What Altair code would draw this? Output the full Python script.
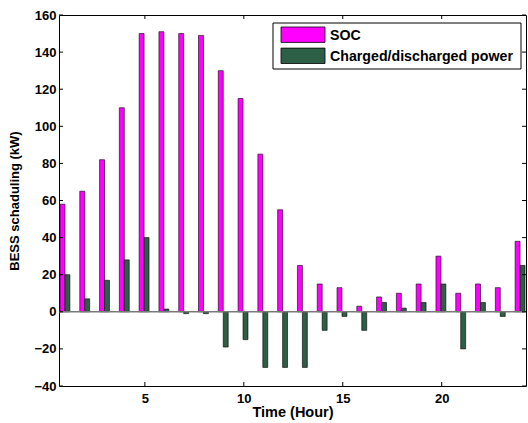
import altair as alt
import pandas as pd

hours = list(range(1, 25))
soc = [58, 65, 82, 110, 150, 151, 150, 149, 130, 115, 85, 55,
       25, 15, 13, 3, 8, 10, 15, 30, 10, 15, 13, 38]
power = [20, 7, 17, 28, 40, 1.5, -1, -1, -19, -15, -30, -30,
         -30, -10, -2.5, -10, 5, 2, 5, 15, -20, 5, -2.5, 25]
series_names = ["SOC", "Charged/discharged power"]
series_colors = ["#FF00FF", "#2D5E46"]
x_ticks = [5, 10, 15, 20]
y_ticks = [-40, -20, 0, 20, 40, 60, 80, 100, 120, 140, 160]

W, H = 467, 371
FONT = "Liberation Sans"

rows = []
for h, s, p in zip(hours, soc, power):
    rows.append({"hour": h, "series": series_names[0], "value": s})
    rows.append({"hour": h, "series": series_names[1], "value": p})
df = pd.DataFrame(rows)

xscale = alt.Scale(domain=[0.66, 24.26], nice=False, zero=False)
yscale = alt.Scale(domain=[-40, 160], nice=False)
cscale = alt.Scale(domain=series_names, range=series_colors)

xaxis = alt.Axis(values=x_ticks, grid=False, domain=False, ticks=False,
                 labelFont=FONT, labelFontWeight="bold", labelFontSize=13,
                 labelColor="black", labelPadding=6, labelOverlap=False,
                 title="Time (Hour)",
                 titleFont=FONT, titleFontWeight="bold", titleFontSize=14.5,
                 titleColor="black", titlePadding=0)
yaxis = alt.Axis(values=y_ticks, grid=False, domain=False, ticks=False,
                 labelFont=FONT, labelFontWeight="bold", labelFontSize=13,
                 labelColor="black", labelPadding=3, labelOverlap=False,
                 labelFlush=False,
                 title="BESS schaduling (kW)",
                 titleFont=FONT, titleFontWeight="bold", titleFontSize=13,
                 titleColor="black", titlePadding=12)

bars = alt.Chart(df).transform_calculate(
    x0="datum.hour + (datum.series === 'SOC' ? -0.29 : -0.04)",
    x1="datum.hour + (datum.series === 'SOC' ? -0.04 : 0.21)",
).mark_bar(stroke="black", strokeWidth=0.6, clip=True).encode(
    x=alt.X("x0:Q", scale=xscale, axis=xaxis),
    x2="x1:Q",
    y=alt.Y("value:Q", scale=yscale, axis=yaxis),
    y2=alt.datum(0),
    color=alt.Color("series:N", scale=cscale, legend=None),
)

zero = alt.Chart(pd.DataFrame({"v": [0]})).mark_rule(color="#7a7a7a", strokeWidth=1.5).encode(
    y=alt.Y("v:Q", scale=yscale, axis=yaxis)
)

xt = pd.DataFrame({"t": x_ticks})
yt = pd.DataFrame({"t": y_ticks})
tick_bottom = alt.Chart(xt).mark_rule(color="black", strokeWidth=1).encode(
    x=alt.X("t:Q", scale=xscale, axis=xaxis), y=alt.value(H), y2=alt.value(H - 4))
tick_top = alt.Chart(xt).mark_rule(color="black", strokeWidth=1).encode(
    x=alt.X("t:Q", scale=xscale, axis=xaxis), y=alt.value(0), y2=alt.value(4))
tick_left = alt.Chart(yt).mark_rule(color="black", strokeWidth=1).encode(
    y=alt.Y("t:Q", scale=yscale, axis=yaxis), x=alt.value(0), x2=alt.value(4))
tick_right = alt.Chart(yt).mark_rule(color="black", strokeWidth=1).encode(
    y=alt.Y("t:Q", scale=yscale, axis=yaxis), x=alt.value(W), x2=alt.value(W - 4))

leg = pd.DataFrame({"series": series_names})
leg_box = alt.Chart(leg).transform_filter("datum.series === 'SOC'").mark_rect(
    fill="white", stroke="black", strokeWidth=1).encode(
    x=alt.value(214), x2=alt.value(462), y=alt.value(8), y2=alt.value(54))

legend_layers = [leg_box]
row_y = [19.7, 40.8]
for name, yy in zip(series_names, row_y):
    base = alt.Chart(leg).transform_filter(alt.datum.series == name)
    legend_layers.append(base.mark_rect(stroke="black", strokeWidth=0.8).encode(
        x=alt.value(222), x2=alt.value(266), y=alt.value(yy - 7.7), y2=alt.value(yy + 7.7),
        color=alt.Color("series:N", scale=cscale, legend=None)))
    legend_layers.append(base.mark_text(align="left", baseline="middle", font=FONT,
                                        fontWeight="bold", fontSize=14.2, color="black").encode(
        x=alt.value(271), y=alt.value(yy + 0.8), text="series:N"))

chart = alt.layer(bars, zero, tick_bottom, tick_top, tick_left, tick_right,
                  *legend_layers).properties(
    width=W, height=H,
    padding={"left": 59, "top": 15, "right": 2, "bottom": 37},
    autosize=alt.AutoSizeParams(type="none"),
    background="white",
).configure_view(stroke="black", strokeWidth=1)

chart.save("out.html", embed_options={"renderer": "svg", "actions": False})
